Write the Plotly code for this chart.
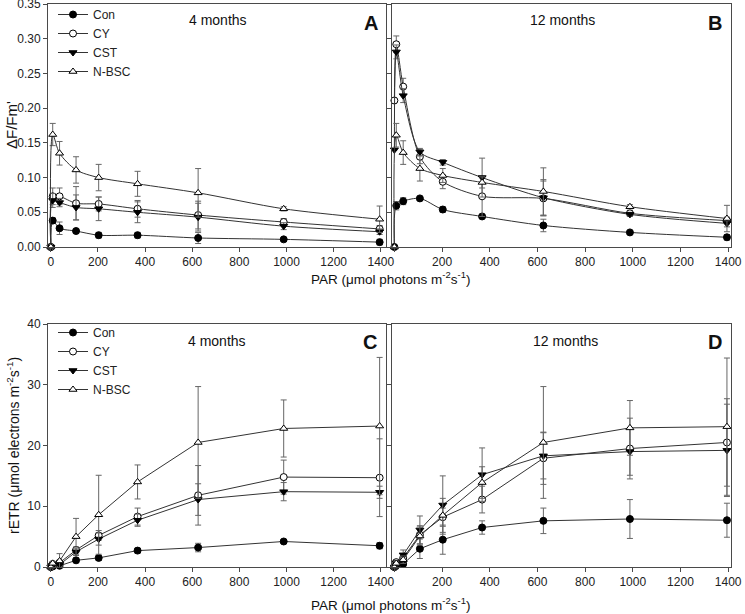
import plotly.graph_objects as go

# ---------------- data ----------------
par = [0, 8, 37, 107, 203, 368, 625, 988, 1395]
series = ["Con", "CY", "CST", "N-BSC"]
x_ticks = [0, 200, 400, 600, 800, 1000, 1200, 1400]

# Panel A: dF/Fm' 4 months
a_con = [0, 0.038, 0.027, 0.023, 0.017, 0.017, 0.013, 0.011, 0.007]
a_con_err = [0, 0.004, 0.009, 0.003, 0.004, 0.004, 0.008, 0.002, 0.004]
a_cy = [0, 0.073, 0.073, 0.063, 0.062, 0.055, 0.046, 0.036, 0.026]
a_cy_err = [0, 0.012, 0.012, 0.024, 0.010, 0.012, 0.020, 0.005, 0.005]
a_cst = [0, 0.067, 0.064, 0.057, 0.055, 0.050, 0.043, 0.030, 0.022]
a_cst_err = [0, 0.010, 0.006, 0.018, 0.017, 0.015, 0.020, 0.005, 0.004]
a_nbsc = [0, 0.162, 0.135, 0.111, 0.100, 0.091, 0.078, 0.055, 0.040]
a_nbsc_err = [0, 0.016, 0.017, 0.019, 0.019, 0.018, 0.035, 0.003, 0.019]

# Panel B: dF/Fm' 12 months
b_con = [0, 0.0595, 0.066, 0.070, 0.054, 0.044, 0.031, 0.021, 0.014]
b_con_err = [0, 0.006, 0.005, 0.003, 0.004, 0.003, 0.009, 0.002, 0.004]
b_cy = [0.211, 0.292, 0.231, 0.130, 0.094, 0.073, 0.070, 0.0485, 0.038]
b_cy_err = [0, 0.012, 0.012, 0.010, 0.010, 0.029, 0.025, 0.004, 0.005]
b_cst = [0.140, 0.281, 0.218, 0.137, 0.122, 0.100, 0.071, 0.047, 0.034]
b_cst_err = [0, 0.010, 0.010, 0.005, 0.004, 0.028, 0.026, 0.003, 0.005]
b_nbsc = [0, 0.161, 0.136, 0.113, 0.103, 0.093, 0.080, 0.058, 0.041]
b_nbsc_err = [0, 0.017, 0.017, 0.018, 0.010, 0.008, 0.034, 0.003, 0.019]

# Panel C: rETR 4 months
c_con = [0, 0.1, 0.2, 1.1, 1.5, 2.7, 3.2, 4.2, 3.5]
c_con_err = [0, 0.1, 0.2, 0.4, 0.4, 0.4, 0.7, 0.3, 0.5]
c_cy = [0, 0.5, 0.7, 2.8, 5.2, 8.3, 11.8, 14.8, 14.7]
c_cy_err = [0, 0.2, 0.4, 0.5, 0.8, 1.4, 4.9, 2.8, 6.4]
c_cst = [0, 0.3, 0.4, 2.5, 4.6, 7.7, 11.1, 12.4, 12.3]
c_cst_err = [0, 0.2, 0.3, 0.6, 1.0, 1.0, 2.6, 1.5, 1.0]
c_nbsc = [0, 0.6, 1.0, 5.0, 8.6, 14.0, 20.5, 22.8, 23.2]
c_nbsc_err = [0, 0.3, 1.2, 3.0, 6.5, 2.8, 9.2, 4.7, 11.3]

# Panel D: rETR 12 months
d_con = [0, 0.3, 0.5, 3.0, 4.5, 6.5, 7.6, 7.9, 7.7]
d_con_err = [0, 0.2, 0.3, 1.6, 2.4, 1.1, 2.1, 3.2, 2.8]
d_cy = [0, 0.8, 1.5, 5.3, 8.2, 11.1, 17.9, 19.5, 20.5]
d_cy_err = [0, 0.4, 0.6, 1.5, 1.5, 2.2, 4.3, 5.0, 7.2]
d_cst = [0, 0.7, 2.0, 6.1, 10.2, 15.2, 18.3, 19.0, 19.2]
d_cst_err = [0, 0.3, 0.8, 2.3, 4.8, 4.4, 3.8, 3.9, 7.6]
d_nbsc = [0, 0.6, 1.2, 5.1, 8.5, 13.9, 20.5, 22.9, 23.1]
d_nbsc_err = [0, 0.3, 0.6, 1.5, 2.8, 2.6, 9.2, 4.5, 11.3]

# ---------------- styling ----------------
FONT = "Arial, Liberation Sans, sans-serif"
LINE_C = "#333333"
ERR_C = "#666666"
AXIS_C = "#4a4a4a"
symbols = {"Con": ("circle", "black"), "CY": ("circle", "white"),
           "CST": ("triangle-down", "black"), "N-BSC": ("triangle-up", "white")}

panels = [
    ("x", "y", [a_con, a_cy, a_cst, a_nbsc], [a_con_err, a_cy_err, a_cst_err, a_nbsc_err], "spline", "legend"),
    ("x2", "y2", [b_con, b_cy, b_cst, b_nbsc], [b_con_err, b_cy_err, b_cst_err, b_nbsc_err], "spline", None),
    ("x3", "y3", [c_con, c_cy, c_cst, c_nbsc], [c_con_err, c_cy_err, c_cst_err, c_nbsc_err], "linear", "legend2"),
    ("x4", "y4", [d_con, d_cy, d_cst, d_nbsc], [d_con_err, d_cy_err, d_cst_err, d_nbsc_err], "linear", None),
]

fig = go.Figure()
for xa, ya, vals, errs, shape, leg in panels:
    for name, v, e in zip(series, vals, errs):
        sym, fill = symbols[name]
        kw = dict(
            x=par, y=v, name=name, xaxis=xa, yaxis=ya, mode="lines+markers",
            line=dict(color=LINE_C, width=1, shape=shape,
                      smoothing=0.8 if shape == "spline" else None),
            marker=dict(symbol=sym, size=7, color=fill, line=dict(color="black", width=1)),
            error_y=dict(type="data", array=e, visible=True, color=ERR_C, thickness=1, width=3),
            cliponaxis=False,
            showlegend=leg is not None,
        )
        if leg is not None:
            kw["legend"] = leg
        fig.add_trace(go.Scatter(**kw))

W, H = 745, 614
def px_x(a, b):
    return [a / W, b / W]
def px_y(top, bottom):
    return [1 - bottom / H, 1 - top / H]

common = dict(showline=True, mirror=True, linecolor=AXIS_C, linewidth=1, ticks="outside",
              ticklen=4, tickcolor=AXIS_C, showgrid=False, zeroline=False, automargin=False,
              ticklabeloverflow="allow",
              tickfont=dict(size=12, color="#222", family=FONT))

b_ticktext = ["" if t == 0 else str(t) for t in x_ticks]

fig.update_layout(
    width=W, height=H, margin=dict(l=0, r=0, t=0, b=0, autoexpand=False),
    paper_bgcolor="white", plot_bgcolor="white",
    font=dict(family=FONT, size=12, color="#222"),
    xaxis=dict(domain=px_x(48, 386), range=[-12, 1422], anchor="y",
               tickvals=x_ticks, **common),
    yaxis=dict(domain=px_y(4, 247), range=[0, 0.35], anchor="x", dtick=0.05,
               tickformat=".2f", **common),
    xaxis2=dict(domain=px_x(392, 731), range=[-10, 1412], anchor="y2",
                tickvals=x_ticks, ticktext=b_ticktext, **common),
    yaxis2=dict(domain=px_y(4, 247), range=[0, 0.35], anchor="x2", dtick=0.05,
                showticklabels=False, **common),
    xaxis3=dict(domain=px_x(48, 386), range=[-12, 1422], anchor="y3",
                tickvals=x_ticks, **common),
    yaxis3=dict(domain=px_y(324, 567), range=[0, 40], anchor="x3", dtick=10, **common),
    xaxis4=dict(domain=px_x(392, 731), range=[-10, 1412], anchor="y4",
                tickvals=x_ticks, ticktext=b_ticktext, **common),
    yaxis4=dict(domain=px_y(324, 567), range=[0, 40], anchor="x4", dtick=10,
                showticklabels=False, **common),
    legend=dict(x=53 / W, y=1.0, xanchor="left", yanchor="top",
                bgcolor="rgba(0,0,0,0)", font=dict(size=12, family=FONT),
                itemwidth=30, tracegroupgap=0),
    legend2=dict(x=53 / W, y=1 - 318 / H, xanchor="left", yanchor="top",
                 bgcolor="rgba(0,0,0,0)", font=dict(size=12, family=FONT),
                 itemwidth=30, tracegroupgap=0),
)

def ann(text, xpx, ypx, size=14, bold=False, angle=0):
    fig.add_annotation(text=f"<b>{text}</b>" if bold else text, xref="paper", yref="paper",
                       x=xpx / W, y=1 - ypx / H, showarrow=False, textangle=angle,
                       font=dict(size=size, family=FONT, color="#111"),
                       xanchor="center", yanchor="middle")

ann("4 months", 218, 20)
ann("12 months", 562, 20)
ann("4 months", 217, 341)
ann("12 months", 565, 341)
ann("A", 371, 23, size=20, bold=True)
ann("B", 715, 23, size=20, bold=True)
ann("C", 370, 342, size=20, bold=True)
ann("D", 715, 342, size=20, bold=True)
ann("PAR (\u03bcmol photons m<sup>-2</sup>s<sup>-1</sup>)", 390, 278, size=13.5)
ann("PAR (\u03bcmol photons m<sup>-2</sup>s<sup>-1</sup>)", 390, 604, size=13.5)
ann("\u0394F/Fm'", 12, 125, size=15, angle=-90)
ann("rETR (\u03bcmol electrons m<sup>-2</sup>s<sup>-1</sup>)", 13, 446, size=14, angle=-90)

fig.write_html("out.html", config={"displayModeBar": False},
               post_script="document.body.style.margin='0px';document.body.style.overflow='hidden';")
